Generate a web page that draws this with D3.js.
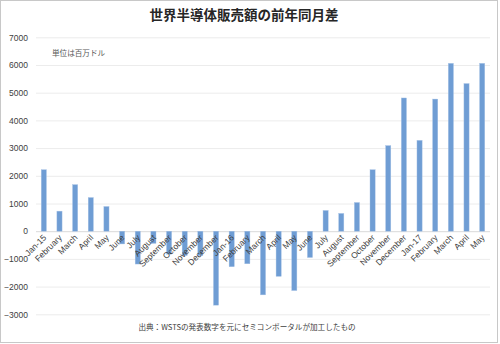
<!DOCTYPE html>
<html><head><meta charset="utf-8">
<script src="https://cdn.jsdelivr.net/npm/d3@7"></script>
<style>
body{margin:0;background:#fff;}
svg{display:block;}
</style></head>
<body><svg id="c" width="500" height="344"></svg>
<script>
const categories = ["Jan-15","February","March","April","May","June","July","August","September","October","November","December",
  "Jan-16","February","March","April","May","June","July","August","September","October","November","December",
  "Jan-17","February","March","April","May"];
const values = [2220,724,1681,1215,892,-460,-1186,-440,-830,-880,-880,-2670,
  -1283,-1176,-2298,-1630,-2143,-950,749,642,1036,2220,3090,4810,
  3280,4770,6060,5330,6060];
const yTicks = [-3000,-2000,-1000,0,1000,2000,3000,4000,5000,6000,7000];
const title = "世界半導体販売額の前年同月差";
const unitNote = "単位は百万ドル";
const source = "出典：WSTSの発表数字を元にセミコンポータルが加工したもの";

const svg = d3.select("#c");
const font = "'Liberation Sans', Arial, 'Noto Sans CJK JP', sans-serif";
const cjk = "'Noto Sans CJK JP', sans-serif";

svg.append("rect").attr("x",0.5).attr("y",0.5).attr("width",497).attr("height",342)
  .attr("fill","#fff").attr("stroke","#c8c8c8");

const x = d3.scaleBand().domain(d3.range(categories.length)).range([36,490])
  .paddingInner(0.67).paddingOuter(0.335);
const y = d3.scaleLinear().domain([-3000,7000]).range([314.3,37.3]);

const yAxis = svg.append("g").attr("transform","translate(36,0)")
  .call(d3.axisLeft(y).tickValues(yTicks).tickSize(-454).tickPadding(8).tickFormat(d3.format("d")));
yAxis.select(".domain").remove();
yAxis.selectAll(".tick line").attr("stroke", d => d===0 ? "#d9d9d9" : "#ececec");
yAxis.selectAll(".tick text").attr("font-family",font).attr("font-size","8.5px").attr("fill","#404040");

svg.append("g").selectAll("rect").data(values).join("rect")
  .attr("x",(d,i)=>x(i)).attr("width",x.bandwidth())
  .attr("y",d=>y(Math.max(0,d))).attr("height",d=>Math.abs(y(d)-y(0)))
  .attr("fill","#6f9dd4").attr("stroke","#a9c4e6").attr("stroke-width",0.4);

const xAxis = svg.append("g").attr("transform",`translate(0,${y(0)})`)
  .call(d3.axisBottom(x).tickSize(0).tickFormat(i=>categories[i]));
xAxis.select(".domain").remove();
xAxis.selectAll(".tick text")
  .attr("font-family",font).attr("font-size","8.5px").attr("fill","#404040")
  .attr("text-anchor","end").attr("dy","0").attr("y",0)
  .attr("transform","translate(3,7) rotate(-45)");

svg.append("text").attr("x",244).attr("y",20).attr("text-anchor","middle")
  .attr("font-family",cjk).attr("font-weight","bold").attr("font-size","13.5px").attr("fill","#262626")
  .text(title);
svg.append("text").attr("x",52).attr("y",56)
  .attr("font-family",cjk).attr("font-size","7.6px").attr("fill","#595959").text(unitNote);
svg.append("text").attr("x",247).attr("y",330).attr("text-anchor","middle")
  .attr("font-family",cjk).attr("font-size","7.6px").attr("fill","#404040").text(source);
</script></body></html>
